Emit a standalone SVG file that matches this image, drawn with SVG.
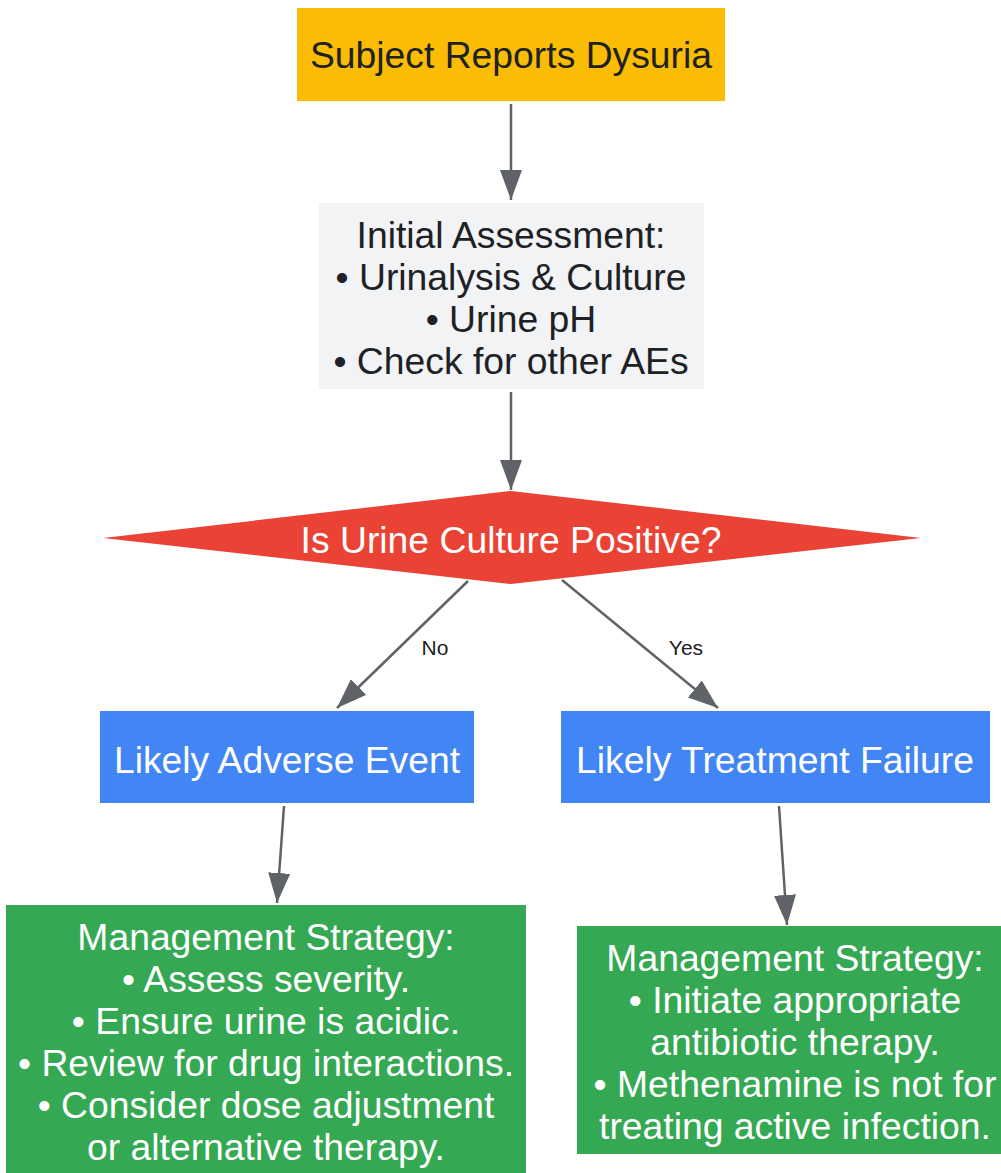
<svg xmlns="http://www.w3.org/2000/svg" width="1001" height="1173" viewBox="0 0 1001 1173">
<style>
text{font-family:"Liberation Sans",Arial,sans-serif;text-anchor:middle}
.t{font-size:37.3px}
.dark{fill:#202124}
.light{fill:#ffffff}
.lbl{font-size:21px;fill:#202124}
.edge{stroke:#5F6368;stroke-width:2.5;fill:none;marker-end:url(#ah)}
</style>
<defs>
<marker id="ah" viewBox="0 0 30 22" refX="30" refY="11" markerWidth="30" markerHeight="22" markerUnits="userSpaceOnUse" orient="auto">
<path d="M0,0 L30,11 L0,22 z" fill="#5F6368"/>
</marker>
</defs>
<rect width="1001" height="1173" fill="#ffffff"/>
<g id="connectors">
<line class="edge" x1="511" y1="104" x2="511" y2="200"/>
<line class="edge" x1="511" y1="392" x2="511" y2="490"/>
<line class="edge" x1="468" y1="581" x2="337" y2="708"/>
<line class="edge" x1="562" y1="580" x2="718" y2="708"/>
<line class="edge" x1="284" y1="806" x2="277" y2="903"/>
<line class="edge" x1="779" y1="806" x2="787" y2="925"/>
<text class="lbl" x="435" y="655">No</text>
<text class="lbl" x="686" y="655">Yes</text>
</g>
<g id="n1">
<rect x="297" y="8" width="428" height="93" fill="#FBBC04"/>
<text class="t dark" x="511" y="68">Subject Reports Dysuria</text>
</g>
<g id="n2">
<rect x="319" y="203" width="385" height="186" fill="#F1F3F4"/>
<text class="t dark" x="511" y="248">Initial Assessment:</text>
<text class="t dark" x="511" y="290">• Urinalysis &amp; Culture</text>
<text class="t dark" x="511" y="332">• Urine pH</text>
<text class="t dark" x="511" y="374">• Check for other AEs</text>
</g>
<g id="n3">
<polygon points="511,491 921,538 511,584 103,538" fill="#EA4335"/>
<text class="t light" x="511" y="553">Is Urine Culture Positive?</text>
</g>
<g id="n4">
<rect x="100" y="711" width="374" height="92" fill="#4285F4"/>
<text class="t light" x="287" y="773">Likely Adverse Event</text>
</g>
<g id="n5">
<rect x="561" y="711" width="429" height="92" fill="#4285F4"/>
<text class="t light" x="775" y="773">Likely Treatment Failure</text>
</g>
<g id="n6">
<rect x="6" y="905" width="520" height="270" fill="#34A853"/>
<text class="t light" x="266" y="950">Management Strategy:</text>
<text class="t light" x="266" y="992">• Assess severity.</text>
<text class="t light" x="266" y="1034">• Ensure urine is acidic.</text>
<text class="t light" x="266" y="1076">• Review for drug interactions.</text>
<text class="t light" x="266" y="1118">• Consider dose adjustment</text>
<text class="t light" x="266" y="1160">or alternative therapy.</text>
</g>
<g id="n7">
<rect x="577" y="926" width="436" height="228" fill="#34A853"/>
<text class="t light" x="795" y="971">Management Strategy:</text>
<text class="t light" x="795" y="1013">• Initiate appropriate</text>
<text class="t light" x="795" y="1055">antibiotic therapy.</text>
<text class="t light" x="795" y="1097">• Methenamine is not for</text>
<text class="t light" x="795" y="1139">treating active infection.</text>
</g>
</svg>
